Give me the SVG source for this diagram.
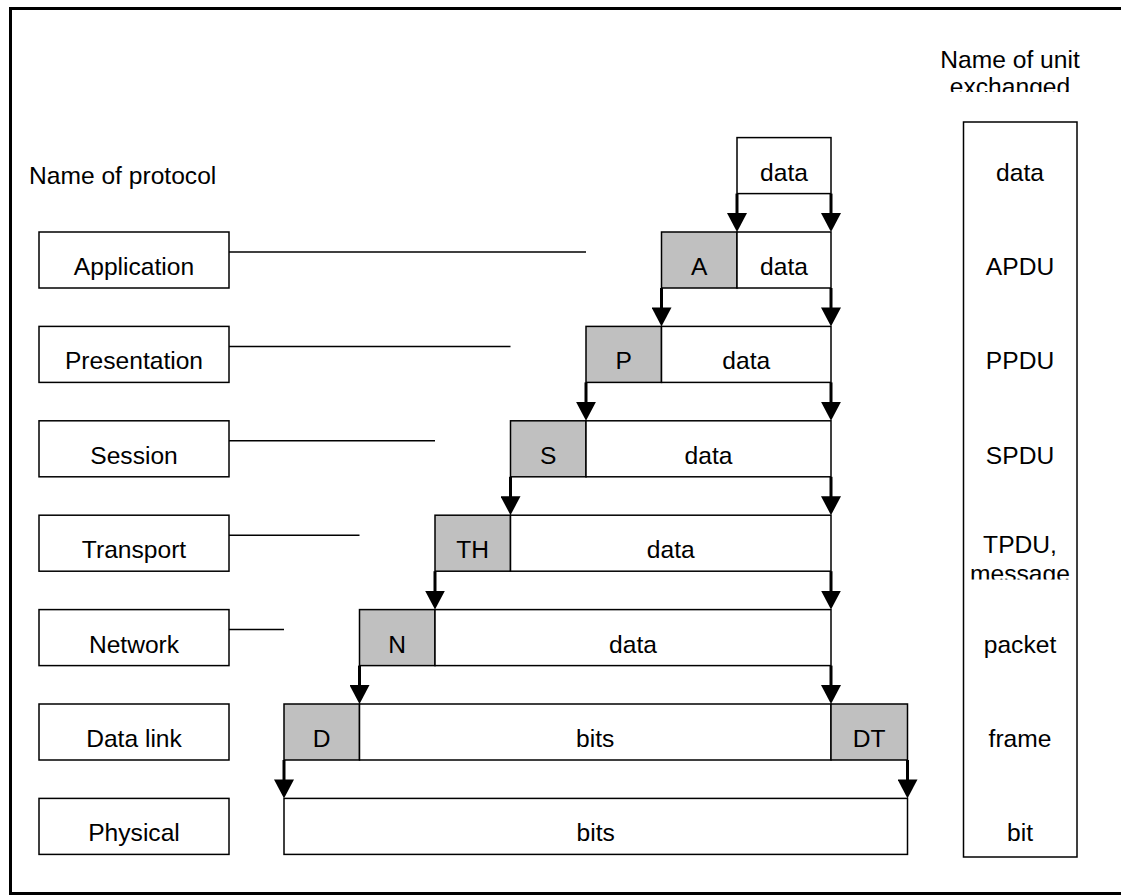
<svg xmlns="http://www.w3.org/2000/svg" width="1121" height="896" viewBox="0 0 1121 896">
  <style>
    text { font-family: "Liberation Sans", Arial, sans-serif; font-size: 24.6px; fill: #000; }
    .c { text-anchor: middle; }
    .box { fill: #fff; stroke: #000; stroke-width: 1.5; }
    .hdr { fill: #c0c0c0; stroke: #000; stroke-width: 1.5; }
    .link { stroke: #000; stroke-width: 1.5; fill: none; }
    .arrow { stroke: #000; stroke-width: 3; fill: none; marker-end: url(#head); }
  </style>
  <defs>
    <marker id="head" markerUnits="userSpaceOnUse" viewBox="0 0 19 20" markerWidth="19" markerHeight="20" refX="9" refY="10" orient="auto">
      <path d="M0,0 L19,10 L0,20 z" fill="#000"/>
    </marker>
    <clipPath id="clipHead"><rect x="900" y="30" width="221" height="62"/></clipPath>
    <clipPath id="clipTpdu"><rect x="960" y="520" width="120" height="59.5"/></clipPath>
  </defs>

  <rect width="1121" height="896" fill="#fff"/>
  <!-- frame -->
  <rect x="10.5" y="8.5" width="1140" height="885" fill="none" stroke="#000" stroke-width="3"/>

  <!-- headings -->
  <text x="29" y="184">Name of protocol</text>
  <g clip-path="url(#clipHead)">
    <text class="c" x="1010" y="68">Name of unit</text>
    <text class="c" x="1010" y="95">exchanged</text>
  </g>

  <!-- protocol layers -->
  <g id="layer-application">
    <rect class="box" x="39" y="232" width="190" height="56"/>
    <text class="c" x="134" y="275">Application</text>
  </g>
  <g id="layer-presentation">
    <rect class="box" x="39" y="326.4" width="190" height="56"/>
    <text class="c" x="134" y="369.4">Presentation</text>
  </g>
  <g id="layer-session">
    <rect class="box" x="39" y="420.8" width="190" height="56"/>
    <text class="c" x="134" y="463.8">Session</text>
  </g>
  <g id="layer-transport">
    <rect class="box" x="39" y="515.2" width="190" height="56"/>
    <text class="c" x="134" y="558.2">Transport</text>
  </g>
  <g id="layer-network">
    <rect class="box" x="39" y="609.6" width="190" height="56"/>
    <text class="c" x="134" y="652.6">Network</text>
  </g>
  <g id="layer-datalink">
    <rect class="box" x="39" y="704" width="190" height="56"/>
    <text class="c" x="134" y="747">Data link</text>
  </g>
  <g id="layer-physical">
    <rect class="box" x="39" y="798.4" width="190" height="56"/>
    <text class="c" x="134" y="841.4">Physical</text>
  </g>

  <!-- encapsulated units -->
  <g id="unit-data">
    <rect class="box" x="737" y="137.6" width="94" height="56"/>
    <text class="c" x="784" y="180.6">data</text>
  </g>
  <g id="unit-apdu">
    <rect class="hdr" x="661.5" y="232" width="75.5" height="56"/>
    <text class="c" x="699.25" y="275">A</text>
    <rect class="box" x="737" y="232" width="94" height="56"/>
    <text class="c" x="784" y="275">data</text>
  </g>
  <g id="unit-ppdu">
    <rect class="hdr" x="586" y="326.4" width="75.5" height="56"/>
    <text class="c" x="623.75" y="369.4">P</text>
    <rect class="box" x="661.5" y="326.4" width="169.5" height="56"/>
    <text class="c" x="746.25" y="369.4">data</text>
  </g>
  <g id="unit-spdu">
    <rect class="hdr" x="510.5" y="420.8" width="75.5" height="56"/>
    <text class="c" x="548.25" y="463.8">S</text>
    <rect class="box" x="586" y="420.8" width="245" height="56"/>
    <text class="c" x="708.5" y="463.8">data</text>
  </g>
  <g id="unit-tpdu">
    <rect class="hdr" x="435" y="515.2" width="75.5" height="56"/>
    <text class="c" x="472.75" y="558.2">TH</text>
    <rect class="box" x="510.5" y="515.2" width="320.5" height="56"/>
    <text class="c" x="670.75" y="558.2">data</text>
  </g>
  <g id="unit-packet">
    <rect class="hdr" x="359.5" y="609.6" width="75.5" height="56"/>
    <text class="c" x="397.25" y="652.6">N</text>
    <rect class="box" x="435" y="609.6" width="396" height="56"/>
    <text class="c" x="633" y="652.6">data</text>
  </g>
  <g id="unit-frame">
    <rect class="hdr" x="284" y="704" width="75.5" height="56"/>
    <text class="c" x="321.75" y="747">D</text>
    <rect class="box" x="359.5" y="704" width="471.5" height="56"/>
    <text class="c" x="595.25" y="747">bits</text>
    <rect class="hdr" x="831" y="704" width="76.5" height="56"/>
    <text class="c" x="869.25" y="747">DT</text>
  </g>
  <g id="unit-bits">
    <rect class="box" x="284" y="798.4" width="623.5" height="56"/>
    <text class="c" x="595.75" y="841.4">bits</text>
  </g>

  <!-- unit names -->
  <g id="unit-names">
    <rect class="box" x="963.5" y="122" width="113.5" height="735"/>
    <text class="c" x="1020" y="180.6">data</text>
    <text class="c" x="1020" y="275">APDU</text>
    <text class="c" x="1020" y="369.4">PPDU</text>
    <text class="c" x="1020" y="463.8">SPDU</text>
    <g clip-path="url(#clipTpdu)">
      <text class="c" x="1020" y="553">TPDU,</text>
      <text class="c" x="1020" y="581.5">message</text>
    </g>
    <text class="c" x="1020" y="652.6">packet</text>
    <text class="c" x="1020" y="747">frame</text>
    <text class="c" x="1020" y="841.4">bit</text>
  </g>

  <!-- connectors -->
  <g id="connectors">
    <line class="link" x1="229" y1="252" x2="586" y2="252"/>
    <line class="link" x1="229" y1="346.4" x2="510.5" y2="346.4"/>
    <line class="link" x1="229" y1="440.8" x2="435" y2="440.8"/>
    <line class="link" x1="229" y1="535.2" x2="359.5" y2="535.2"/>
    <line class="link" x1="229" y1="629.6" x2="284" y2="629.6"/>

    <line class="arrow" x1="737" y1="193.6" x2="737" y2="222"/>
    <line class="arrow" x1="831" y1="193.6" x2="831" y2="222"/>
    <line class="arrow" x1="661.5" y1="288" x2="661.5" y2="316.4"/>
    <line class="arrow" x1="831" y1="288" x2="831" y2="316.4"/>
    <line class="arrow" x1="586" y1="382.4" x2="586" y2="410.8"/>
    <line class="arrow" x1="831" y1="382.4" x2="831" y2="410.8"/>
    <line class="arrow" x1="510.5" y1="476.8" x2="510.5" y2="505.2"/>
    <line class="arrow" x1="831" y1="476.8" x2="831" y2="505.2"/>
    <line class="arrow" x1="435" y1="571.2" x2="435" y2="599.6"/>
    <line class="arrow" x1="831" y1="571.2" x2="831" y2="599.6"/>
    <line class="arrow" x1="359.5" y1="665.6" x2="359.5" y2="694"/>
    <line class="arrow" x1="831" y1="665.6" x2="831" y2="694"/>
    <line class="arrow" x1="284" y1="760" x2="284" y2="788.4"/>
    <line class="arrow" x1="907.5" y1="760" x2="907.5" y2="788.4"/>
  </g>
</svg>
